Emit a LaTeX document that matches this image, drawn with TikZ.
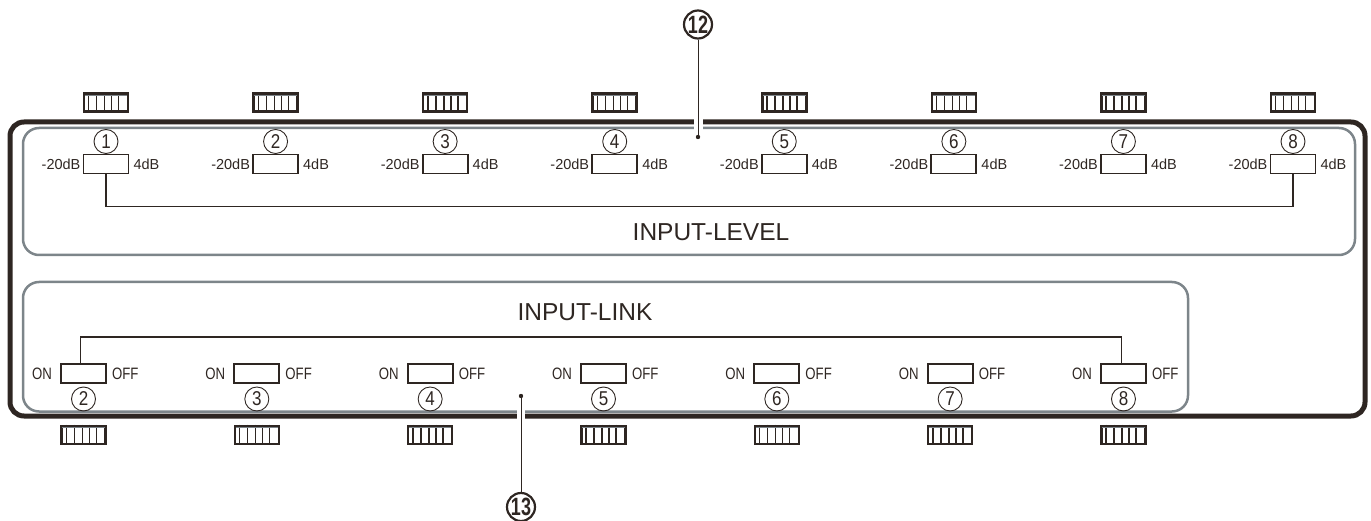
\documentclass[tikz,border=0pt]{standalone}
\usepackage{fontspec}
\setmainfont{Liberation Sans}
\usepackage{graphicx}
\usetikzlibrary{calc}
\definecolor{dk}{HTML}{2E2622}
\definecolor{gr}{HTML}{7D858A}
\newcommand{\cnd}[2][0.8]{\scalebox{#1}[1]{#2}}
\begin{document}
\begin{tikzpicture}[x=1pt,y=-1pt,
  slide/.style={draw=dk, line width=1.8pt, minimum width=45pt, minimum height=19pt, inner sep=0pt},
  num/.style={circle, draw=dk, line width=0.9pt, minimum size=24pt, inner sep=0pt, text=dk, font=\fontsize{20}{20}\selectfont},
  big/.style={circle, draw=dk, line width=2.2pt, minimum size=28pt, inner sep=0pt, text=dk, font=\bfseries\fontsize{25}{25}\selectfont},
  lbl/.style={inner sep=0pt, text=dk, font=\fontsize{14.5}{16}\selectfont},
  onoff/.style={inner sep=0pt, text=dk, font=\fontsize{16.5}{18}\selectfont},
  title/.style={inner sep=0pt, text=dk, font=\fontsize{24.5}{28}\selectfont},
  dip/.style={draw=dk, line width=2.6pt, minimum width=44pt, minimum height=18pt, inner sep=0pt},
  dipline/.style={dk, line width=1.4pt},
  conn/.style={dk, line width=1.6pt},
  lead/.style={dk, line width=1pt},
  panel/.style={gr, line width=2.5pt, rounded corners=16pt},
  frame/.style={dk, line width=5pt, rounded corners=14pt}]
\useasboundingbox (0,0) rectangle (1371,521);

% outer frame and panels
\draw[frame] (10,122) rectangle (1365,416);
\draw[panel] (23,128) rectangle (1355,255);
\draw[panel] (23,282) rectangle (1188,411.5);

% upper row: INPUT-LEVEL
\foreach \i in {1,...,8} {
  \pgfmathsetmacro\xx{106+(\i-1)*169.57}
  \node[slide] (L\i) at (\xx,164) {};
  \node[num] (Ln\i) at (\xx,141.5) {\cnd[0.85]{\i}};
  \node[lbl, anchor=east] (Lm\i) at ([xshift=-2pt]L\i.west) {-20dB};
  \node[lbl, anchor=west] (Lp\i) at ([xshift=4pt]L\i.east) {4dB};
  \node[dip] (Ld\i) at (\xx,102.5) {};
  \foreach \o in {6,14,22,29,36}
    \draw[dipline] ([xshift=\o pt]Ld\i.north west) -- ([xshift=\o pt]Ld\i.south west);
  \draw[gr, line width=0.6pt] ($(Ld\i.north west)+(2,3)$) -- ($(Ld\i.north east)+(-2,3)$);
}
\draw[conn] (L1.south) -- ++(0,32) -| (L8.south);
\node[title] (lvl) at (711,232) {INPUT-LEVEL};

% lower row: INPUT-LINK
\foreach \i [count=\k] in {2,...,8} {
  \pgfmathsetmacro\xx{83.5+(\k-1)*173.33}
  \node[slide] (K\i) at (\xx,373.5) {};
  \node[num] (Kn\i) at (\xx,399) {\cnd[0.85]{\i}};
  \node[onoff, anchor=east] (Km\i) at ([xshift=-8pt]K\i.west) {\cnd{ON}};
  \node[onoff, anchor=west] (Kp\i) at ([xshift=5pt]K\i.east) {\cnd{OFF}};
  \node[dip] (Kd\i) at (\xx,435) {};
  \foreach \o in {6,14,22,29,36}
    \draw[dipline] ([xshift=\o pt]Kd\i.north west) -- ([xshift=\o pt]Kd\i.south west);
  \draw[gr, line width=0.6pt] ($(Kd\i.north west)+(2,3)$) -- ($(Kd\i.north east)+(-2,3)$);
}
\draw[conn] ([xshift=-3pt]K2.north) -- ++(0,-26) -| ([xshift=-2pt]K8.north);
\node[title] (lnk) at (585,312) {INPUT-LINK};

% callouts
\node[big] (n12) at (698,24.5) {\cnd[0.72]{12}};
\coordinate (d12) at (698,137);
\draw[white, line width=9pt] (698,115) -- (698,131.5);
\draw[lead] (n12) -- (d12);
\fill[dk] (d12) circle (2.2);

\node[big] (n13) at (521,507) {\cnd[0.72]{13}};
\coordinate (d13) at (521,396);
\draw[white, line width=8pt] (521,408) -- (521,420);
\draw[lead] (n13) -- (d13);
\fill[dk] (d13) circle (2.2);
\end{tikzpicture}
\end{document}
